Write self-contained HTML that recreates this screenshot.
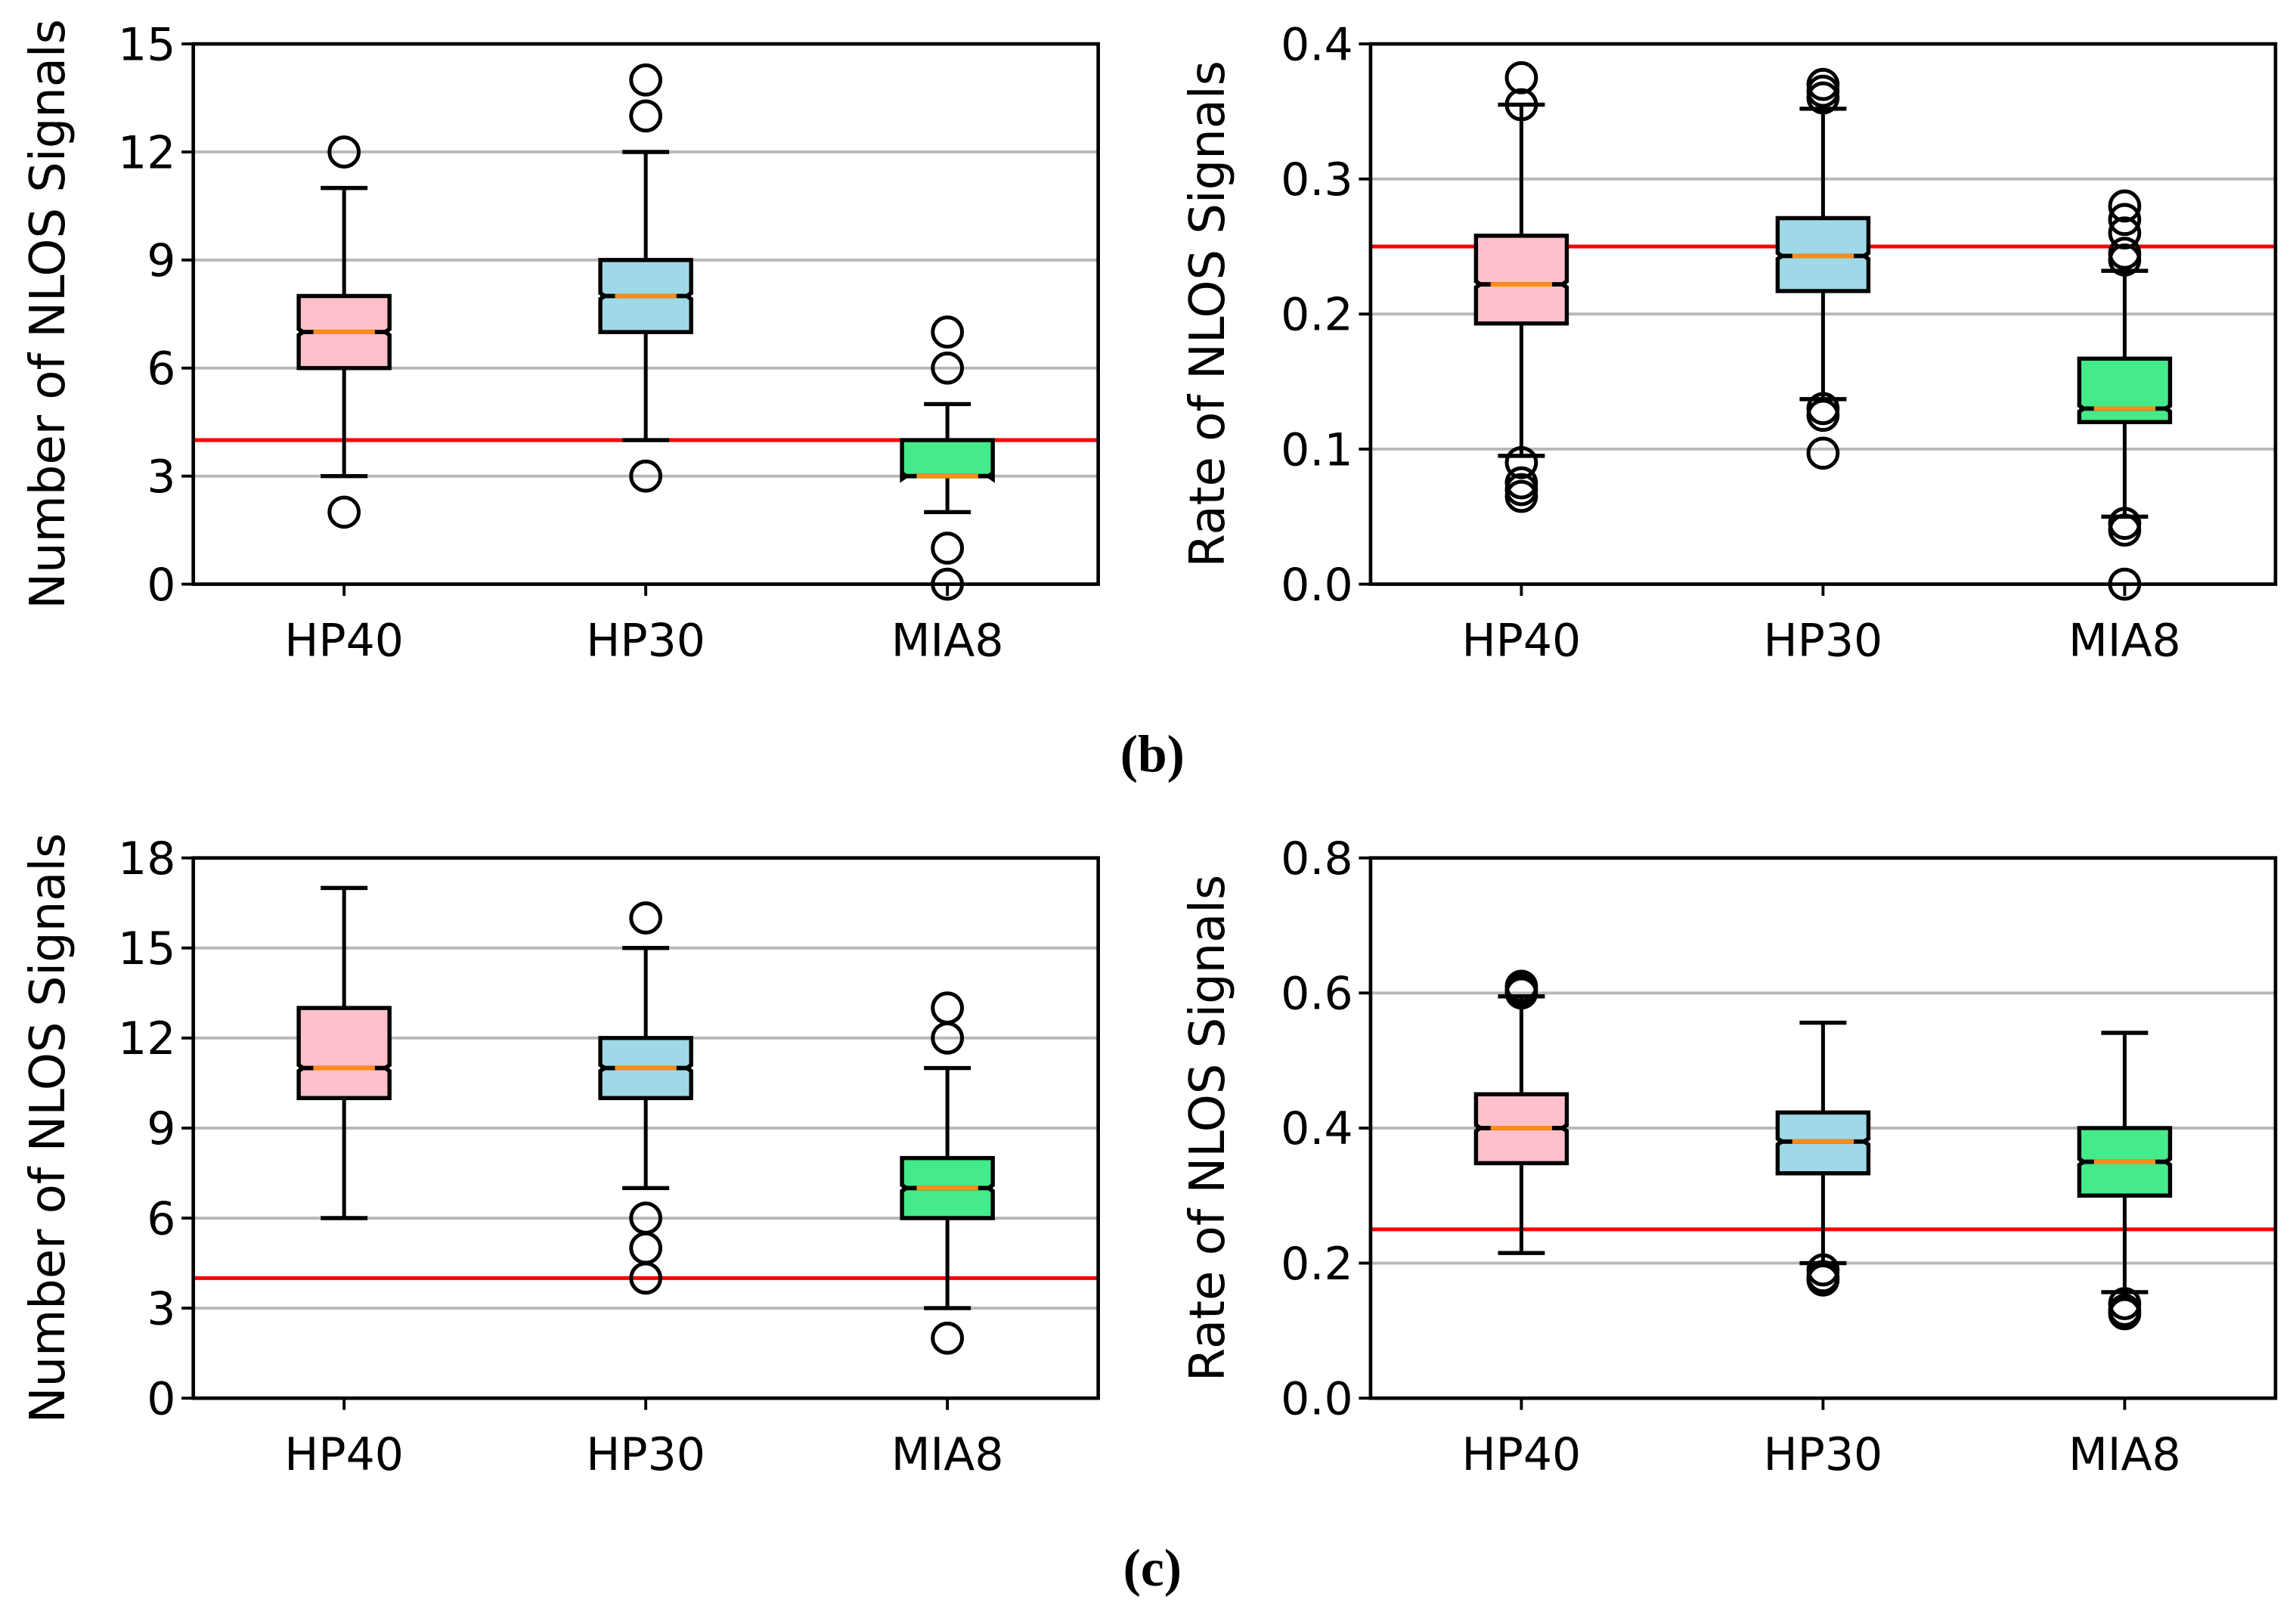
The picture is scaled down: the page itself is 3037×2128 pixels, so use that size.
<!DOCTYPE html>
<html><head><meta charset="utf-8"><style>
html,body{margin:0;padding:0;background:#fff;}
svg{display:block;}
</style></head><body>
<svg id="fig" width="3037" height="2128" viewBox="0 0 1568 1099" preserveAspectRatio="none" xmlns="http://www.w3.org/2000/svg"></svg>
<script>
const categories = ["HP40","HP30","MIA8"];
const colors = ["#ffc0cb","#9fd9e7","#45ea8a"];
// [whislo, q1, med, q3, whishi]
const tlStats = [[3,6,7,8,11],[4,7,8,9,12],[2,3,3,4,5]];
const tlFliers = [[12,2],[14,13,3],[7,6,1,0]];
const trStats = [[0.095,0.193,0.222,0.258,0.355],[0.137,0.217,0.243,0.271,0.352],[0.05,0.12,0.13,0.167,0.232]];
const trFliers = [[0.375,0.355,0.09,0.075,0.07,0.065],[0.37,0.365,0.36,0.13,0.125,0.097],[0.28,0.27,0.26,0.245,0.24,0.045,0.04,0.0]];
const blStats = [[6,10,11,13,17],[7,10,11,12,15],[3,6,7,8,11]];
const blFliers = [[],[16,6,5,4],[13,12,2]];
const brStats = [[0.215,0.348,0.4,0.45,0.595],[0.2,0.333,0.38,0.423,0.556],[0.157,0.3,0.35,0.4,0.541]];
const brFliers = [[0.61,0.605,0.6],[0.19,0.18,0.175],[0.14,0.13,0.125]];
const tlTicks = [0,3,6,9,12,15];
const trTicks = [0,0.1,0.2,0.3,0.4];
const blTicks = [0,3,6,9,12,15,18];
const brTicks = [0,0.2,0.4,0.6,0.8];
const tlRef = 4, trRef = 0.25, blRef = 4, brRef = 0.25;

const NS = "http://www.w3.org/2000/svg";
const svg = document.getElementById("fig");
function mk(tag, attrs, parent){
  const e = document.createElementNS(NS, tag);
  for (const k in attrs) e.setAttribute(k, attrs[k]);
  (parent||svg).appendChild(e);
  return e;
}
function panel(id, x0, x1, y0, y1, ymax, ticks, fmt, stats, fliers, ref, ylabel, ylx){
  const g = mk("g", {});
  
  
  const ys = v => y1 - (v/ymax)*(y1-y0);
  const step = (x1-x0)/3;
  const xs = i => x0 + step*(i+0.5);
  ticks.forEach(t=>{
    const y = ys(t);
    if (t>0 && t<ymax) {
      const l = mk("line",{x1:x0,x2:x1,y1:y,y2:y,stroke:"#b8b8b8","stroke-width":2},g);
      
      
    }
    mk("line",{x1:x0-8,x2:x0,y1:y,y2:y,stroke:"#000","stroke-width":2},g);
    const tx = mk("text",{x:x0-12,y:y+11,"text-anchor":"end","font-family":"DejaVu Sans, Liberation Sans, sans-serif","font-size":31,fill:"#000"},g);
    tx.textContent = fmt(t);
    
    
  });
  const r = mk("line",{x1:x0,x2:x1,y1:ys(ref),y2:ys(ref),stroke:"#ff0000","stroke-width":2.6},g);
  
  
  const hw = 31, cw = 16;
  stats.forEach((s,i)=>{
    const cx = xs(i);
    const bg = mk("g",{},g);
    
    
    mk("line",{x1:cx,x2:cx,y1:ys(s[0]),y2:ys(s[1]),stroke:"#000","stroke-width":2.6},bg);
    mk("line",{x1:cx,x2:cx,y1:ys(s[3]),y2:ys(s[4]),stroke:"#000","stroke-width":2.6},bg);
    mk("line",{x1:cx-cw,x2:cx+cw,y1:ys(s[0]),y2:ys(s[0]),stroke:"#000","stroke-width":2.8},bg);
    mk("line",{x1:cx-cw,x2:cx+cw,y1:ys(s[4]),y2:ys(s[4]),stroke:"#000","stroke-width":2.8},bg);
    const m = ys(s[2]), n = 2, ni = 3;
    const pts = [[cx-hw,ys(s[1])],[cx+hw,ys(s[1])],[cx+hw,m+n],[cx+hw-ni,m],[cx+hw,m-n],[cx+hw,ys(s[3])],[cx-hw,ys(s[3])],[cx-hw,m-n],[cx-hw+ni,m],[cx-hw,m+n]];
    mk("polygon",{points:pts.map(p=>p.join(",")).join(" "),fill:colors[i],stroke:"#000","stroke-width":2.8},bg);
    mk("line",{x1:cx-hw,x2:cx+hw,y1:m,y2:m,stroke:"#000","stroke-width":3},bg);
    mk("line",{x1:cx-hw+10,x2:cx+hw-10,y1:m,y2:m,stroke:"#ff8c1a","stroke-width":3},bg);
    fliers[i].forEach(f=>{
      const c = mk("circle",{cx:cx,cy:ys(f),r:10,fill:"none",stroke:"#000","stroke-width":2.6},bg);
      
      
    });
    mk("line",{x1:cx,x2:cx,y1:y1,y2:y1+8,stroke:"#000","stroke-width":2},g);
    const xl = mk("text",{x:cx,y:y1+49,"text-anchor":"middle","font-family":"DejaVu Sans, Liberation Sans, sans-serif","font-size":31,fill:"#000"},g);
    xl.textContent = categories[i];
    
    
  });
  const fr = mk("rect",{x:x0,y:y0,width:x1-x0,height:y1-y0,fill:"none",stroke:"#000","stroke-width":2.4},g);
  
  
  const yl = mk("text",{x:0,y:0,transform:`translate(${ylx},${(y0+y1)/2}) rotate(-90)`,"text-anchor":"middle","font-family":"DejaVu Sans, Liberation Sans, sans-serif","font-size":33,fill:"#000"},g);
  yl.textContent = ylabel;
  
  
}
const fi = t => String(t);
const f1 = t => t.toFixed(1);
panel("panel-b-count",132,750,30,399,15,tlTicks,fi,tlStats,tlFliers,tlRef,"Number of NLOS Signals",44);
panel("panel-b-rate",936,1554,30,399,0.4,trTicks,f1,trStats,trFliers,trRef,"Rate of NLOS Signals",836);
panel("panel-c-count",132,750,586,955,18,blTicks,fi,blStats,blFliers,blRef,"Number of NLOS Signals",44);
panel("panel-c-rate",936,1554,586,955,0.8,brTicks,f1,brStats,brFliers,brRef,"Rate of NLOS Signals",836);
[["(b)",527,"caption-b"],["(c)",1083,"caption-c"]].forEach(([t,y,n])=>{
  const e = mk("text",{x:787,y:y,"text-anchor":"middle","font-family":"Liberation Serif, serif","font-size":36,"font-weight":"bold",fill:"#000"});
  e.textContent = t;
  
  
});
</script>
</body></html>
